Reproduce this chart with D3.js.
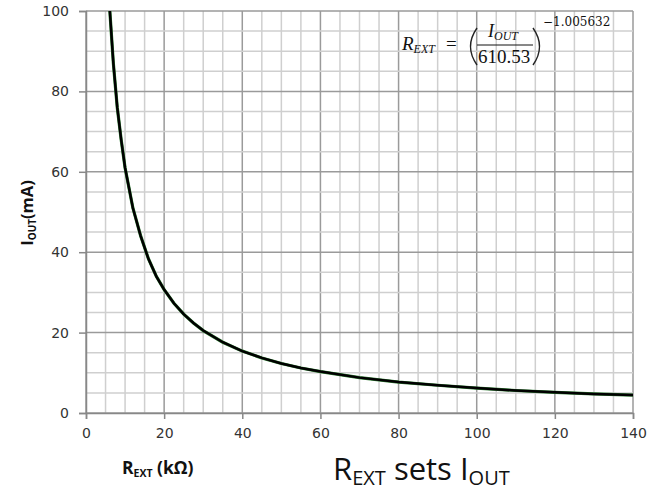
<!DOCTYPE html>
<html lang="en">
<head>
<meta charset="utf-8">
<title>REXT sets IOUT</title>
<script src="https://d3js.org/d3.v7.min.js"></script>
<style>
  body { margin: 0; background: #fff; }
  .tick text { font: 14px "DejaVu Sans", sans-serif; fill: #333; }
  .lbl { font-family: "Open Sans", sans-serif; font-weight: bold; fill: #111; }
</style>
</head>
<body>
<div id="chart"></div>
<script>
"use strict"

// R_EXT in kOhm, I_OUT in mA
var rext = [6.1, 7, 8, 9, 10, 12, 14, 16, 18, 20, 22.5, 25, 27.5, 30, 35, 40, 45, 50, 55, 60, 70, 80, 90, 100, 110, 120, 130, 140];
var iout = [100, 87, 76, 68, 61, 51, 44, 38.3, 34, 30.7, 27.3, 24.6, 22.4, 20.5, 17.6, 15.4, 13.7, 12.3, 11.2, 10.3, 8.8, 7.7, 6.9, 6.2, 5.6, 5.15, 4.75, 4.45];
var xTicks = [0, 20, 40, 60, 80, 100, 120, 140];
var yTicks = [0, 20, 40, 60, 80, 100];

var W = 663, H = 491;
var margin = {top: 11, right: 30, bottom: 78, left: 86},
    w = W - margin.left - margin.right,
    h = H - margin.top - margin.bottom;

var svg = d3.select('#chart').append('svg')
  .attr('width', W).attr('height', H);
var g = svg.append('g')
  .attr('transform', 'translate(' + margin.left + ',' + margin.top + ')');

var x = d3.scaleLinear().domain([0, 140]).range([0, w]);
var y = d3.scaleLinear().domain([0, 100]).range([h, 0]);

// grid: minor every 5, major every 20
var minorX = d3.range(0, 141, 5), minorY = d3.range(0, 101, 5);
g.selectAll('.gx').data(minorX).enter().append('line')
  .attr('x1', d => x(d)).attr('x2', d => x(d))
  .attr('y1', 0).attr('y2', h)
  .attr('stroke', d => d % 20 === 0 ? '#9a9a9a' : '#cfcfcf')
  .attr('stroke-width', 1.5);
g.selectAll('.gy').data(minorY).enter().append('line')
  .attr('y1', d => y(d)).attr('y2', d => y(d))
  .attr('x1', 0).attr('x2', w)
  .attr('stroke', d => d % 20 === 0 ? '#9a9a9a' : '#cfcfcf')
  .attr('stroke-width', 1.5);

// axes
var ax = g.append('g').attr('transform', 'translate(0,' + h + ')')
  .call(d3.axisBottom(x).tickValues(xTicks).tickSize(6).tickPadding(9));
var ay = g.append('g')
  .call(d3.axisLeft(y).tickValues(yTicks).tickSize(7).tickPadding(10));
[ax, ay].forEach(a => {
  a.select('.domain').attr('stroke', '#888').attr('stroke-width', 1.5);
  a.selectAll('.tick line').attr('stroke', '#888').attr('stroke-width', 1.5);
});

// curve
var pts = rext.map((r, i) => [r, iout[i]]);
var line = d3.line().x(d => x(d[0])).y(d => y(d[1]));
g.append('path').datum(pts)
  .attr('d', line).attr('fill', 'none')
  .attr('stroke', '#2e7d32').attr('stroke-width', 3.2);
g.append('path').datum(pts)
  .attr('d', line).attr('fill', 'none')
  .attr('stroke', '#000').attr('stroke-width', 2.5);

// axis titles
var yt = svg.append('text').attr('class', 'lbl')
  .attr('transform', 'translate(33,213) rotate(-90)')
  .attr('text-anchor', 'middle').style('font-size', '16.5px');
yt.append('tspan').text('I');
yt.append('tspan').text('OUT').style('font-size', '10px').attr('dy', 3);
yt.append('tspan').text('(mA)').attr('dy', -3);

var xt = svg.append('text').attr('class', 'lbl')
  .attr('x', 122).attr('y', 474).style('font-size', '17.5px');
xt.append('tspan').text('R');
xt.append('tspan').text('EXT').style('font-size', '10.5px').attr('dy', 3);
xt.append('tspan').text(' (kΩ)').attr('dy', -3);

var tt = svg.append('text')
  .attr('x', 333).attr('y', 480)
  .style('font', '31px "Open Sans", sans-serif').attr('fill', '#111');
tt.append('tspan').text('R');
tt.append('tspan').text('EXT').style('font-size', '20px').attr('dy', 5);
tt.append('tspan').text(' sets I').attr('dy', -5);
tt.append('tspan').text('OUT').style('font-size', '20px').attr('dy', 5);

// formula
var f = svg.append('g').style('font-family', '"Liberation Serif", serif').attr('fill', '#111');
var r = f.append('text').attr('x', 402).attr('y', 50).style('font-size', '19px').style('font-style', 'italic');
r.append('tspan').text('R');
r.append('tspan').text('EXT').style('font-size', '12px').attr('dy', 3);
f.append('text').attr('x', 446).attr('y', 50).style('font-size', '19px').text('=');
f.append('path').attr('d', 'M477,28 Q464,46.5 477,65')
  .attr('fill', 'none').attr('stroke', '#222').attr('stroke-width', 1.4);
f.append('path').attr('d', 'M533,28 Q546,46.5 533,65')
  .attr('fill', 'none').attr('stroke', '#222').attr('stroke-width', 1.4);
var io = f.append('text').attr('x', 488).attr('y', 37).style('font-size', '18px').style('font-style', 'italic');
io.append('tspan').text('I');
io.append('tspan').text('OUT').style('font-size', '12px').attr('dy', 3);
f.append('line').attr('x1', 477).attr('x2', 533).attr('y1', 45).attr('y2', 45)
  .attr('stroke', '#111').attr('stroke-width', 1);
f.append('text').attr('x', 478).attr('y', 63).style('font-size', '19px').text('610.53');
f.append('text').attr('x', 543).attr('y', 26).style('font-size', '12px')
  .style('font-family', '"DejaVu Serif", serif').text('−1.005632');
</script>
</body>
</html>
